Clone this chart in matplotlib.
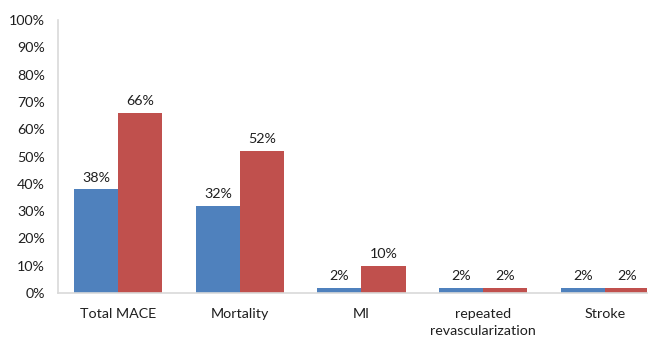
import matplotlib
matplotlib.use("Agg")
import matplotlib.pyplot as plt
import numpy as np

categories = ["Total MACE", "Mortality", "MI", "repeated\nrevascularization", "Stroke"]
series_a = [38, 32, 2, 2, 2]
series_b = [66, 52, 10, 2, 2]
yticks = [0, 10, 20, 30, 40, 50, 60, 70, 80, 90, 100]

BLUE = "#4F81BD"
RED = "#C0504D"
GRID = "#D9D9D9"
TEXT = "#1F1F1F"

plt.rcParams["font.family"] = ["Lato", "DejaVu Sans"]

W, H = 652, 338
fig = plt.figure(figsize=(W / 100, H / 100), dpi=100)
left, right, top, bottom = 57.5, 647, 20, 293
ax = fig.add_axes([left / W, 1 - bottom / H, (right - left) / W, (bottom - top) / H])

x = np.arange(len(categories))
bw = 0.362
bars_a = ax.bar(x - bw / 2, series_a, width=bw, color=BLUE, edgecolor="none")
bars_b = ax.bar(x + bw / 2, series_b, width=bw, color=RED, edgecolor="none")

for bars, vals in ((bars_a, series_a), (bars_b, series_b)):
    for b, v in zip(bars, vals):
        ax.annotate(f"{v}%", (b.get_x() + b.get_width() / 2, v),
                    xytext=(0, 4), textcoords="offset points",
                    ha="center", va="bottom", fontsize=10.3, color=TEXT)

ax.set_xlim(-0.5, 4.348)
ax.set_ylim(0, 100)
ax.set_yticks(yticks)
ax.set_yticklabels([f"{t}%" for t in yticks])
ax.set_xticks(x)
ax.set_xticklabels(categories, linespacing=1.55)

for s in ("top", "right"):
    ax.spines[s].set_visible(False)
for s in ("left", "bottom"):
    ax.spines[s].set_color(GRID)
    ax.spines[s].set_linewidth(1.2)

ax.tick_params(axis="both", length=0, labelsize=10.3, colors=TEXT)
ax.tick_params(axis="y", pad=9)
ax.tick_params(axis="x", pad=10.5)

fig.savefig("out.png", dpi=100)
